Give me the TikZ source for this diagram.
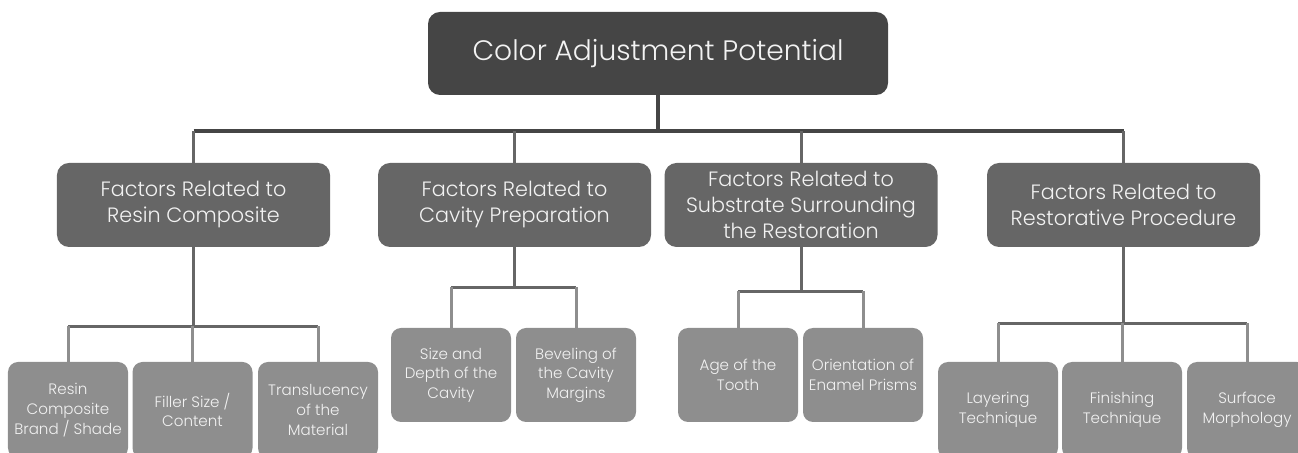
\documentclass[tikz,border=0pt]{standalone}
\usepackage{fontspec}
\setmainfont{Poppins}[UprightFont = * Light]
\usepackage{tikz}
\usepackage{xcolor}
\definecolor{rootgray}{HTML}{454545}
\definecolor{factorgray}{HTML}{666666}
\definecolor{leafgray}{HTML}{8E8E8E}
\definecolor{labelwhite}{HTML}{F2F2F2}
\tikzstyle{root box}=[
        fill = rootgray,
        rounded corners = 2.4mm,
        minimum width = 92mm,
        minimum height = 16.6mm,
        text = labelwhite,
        font = \fontsize{16}{19}\selectfont
    ]
\tikzstyle{factor box}=[
    fill = factorgray,
    rounded corners = 2.4mm,
    minimum width = 54.6mm,
    minimum height = 16.8mm,
    align = center,
    text = labelwhite,
    font = \fontsize{11.8}{14.8}\selectfont
]
\tikzstyle{leaf box}=[
    fill = leafgray,
    rounded corners = 2mm,
    minimum width = 24mm,
    align = center,
    text = labelwhite,
    font = \fontsize{8.6}{11.2}\selectfont
]
\tikzstyle{trunk}=[draw = rootgray, line width = 0.8mm]
\tikzstyle{twig}=[draw = factorgray, line width = 0.6mm]
\tikzstyle{leaf twig}=[draw = leafgray, line width = 0.6mm]

\begin{document}
\begin{tikzpicture}[x=0.2mm, y=-0.2mm]
        \useasboundingbox (0,0) rectangle (1298,453);
        \clip (0,0) rectangle (1298,453);

        \node[root box] (top) at (658,53.5) {Color Adjustment Potential};

        \node[factor box] (resin) at (193.5,205) {Factors Related to\\Resin Composite};
        \node[factor box] (cavity) at (514.5,205) {Factors Related to\\Cavity Preparation};
        \node[factor box] (subst) at (801,205) {Factors Related to\\Substrate Surrounding\\the Restoration};
        \node[factor box] (proc) at (1123.5,205) {Factors Related to\\Restorative Procedure};

        \node[leaf box, minimum height = 19.2mm] (brand) at (68,410) {Resin\\Composite\\Brand / Shade};
        \node[leaf box, minimum height = 19.2mm] (filler) at (192.5,410) {Filler Size /\\Content};
        \node[leaf box, minimum height = 19.2mm] (transl) at (318,410) {Translucency\\of the\\Material};

        \node[leaf box, minimum height = 18.8mm] (depth) at (451,375) {Size and\\Depth of the\\Cavity};
        \node[leaf box, minimum height = 18.8mm] (bevel) at (576,375) {Beveling of\\the Cavity\\Margins};

        \node[leaf box, minimum height = 18.8mm] (age) at (738,375) {Age of the\\Tooth};
        \node[leaf box, minimum height = 18.8mm] (prism) at (863,375) {Orientation of\\Enamel Prisms};

        \node[leaf box, minimum height = 19.2mm] (layer) at (998,410) {Layering\\Technique};
        \node[leaf box, minimum height = 19.2mm] (finish) at (1122,410) {Finishing\\Technique};
        \node[leaf box, minimum height = 19.2mm] (morph) at (1247,410) {Surface\\Morphology};

        \draw[trunk] (top.south) -- ++(0,36) coordinate (hub);
        \draw[trunk] (resin.north |- hub) -- (proc.north |- hub);
        \foreach \f in {resin, cavity, subst, proc}
            \draw[twig] (\f.north) -- (\f.north |- hub);

        \draw[twig] (resin.south) -- ++(0,79) coordinate (resinhub);
        \draw[twig] (brand.north |- resinhub) -- (transl.north |- resinhub);
        \foreach \l in {brand, filler, transl}
            \draw[leaf twig] (\l.north) -- (\l.north |- resinhub);

        \draw[twig] (cavity.south) -- ++(0,40) coordinate (cavityhub);
        \draw[twig] (depth.north |- cavityhub) -- (bevel.north |- cavityhub);
        \foreach \l in {depth, bevel}
            \draw[leaf twig] (\l.north) -- (\l.north |- cavityhub);

        \draw[twig] (subst.south) -- ++(0,44) coordinate (substhub);
        \draw[twig] (age.north |- substhub) -- (prism.north |- substhub);
        \foreach \l in {age, prism}
            \draw[leaf twig] (\l.north) -- (\l.north |- substhub);

        \draw[twig] (proc.south) -- ++(0,76) coordinate (prochub);
        \draw[twig] (layer.north |- prochub) -- (morph.north |- prochub);
        \foreach \l in {layer, finish, morph}
            \draw[leaf twig] (\l.north) -- (\l.north |- prochub);

    \end{tikzpicture}
\end{document}
